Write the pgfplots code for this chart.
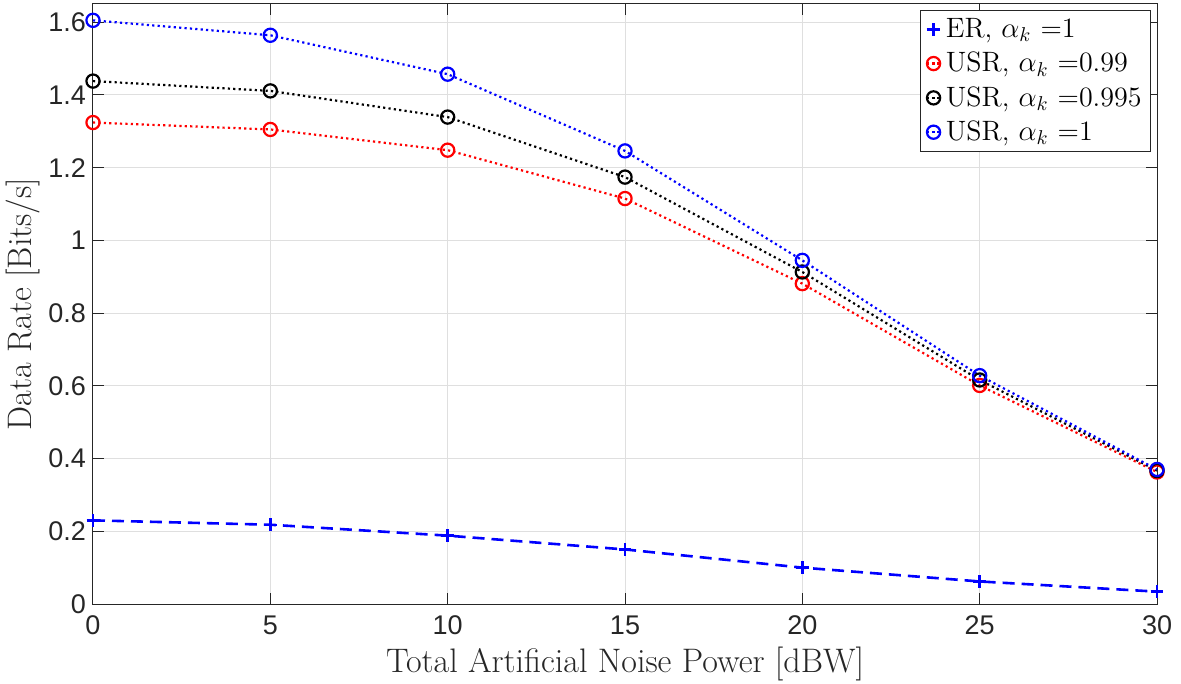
\documentclass[border=0pt]{standalone}
\usepackage{fontspec}
\usepackage{pgfplots}
\pgfplotsset{compat=1.18}
\newfontfamily\ticksf{Liberation Sans}
\definecolor{axgray}{RGB}{38,38,38}
\definecolor{gridgray}{RGB}{223,223,223}
\begin{document}
\begin{tikzpicture}
\begin{axis}[
  at={(0,0)}, anchor=south west,
  scale only axis, width=532pt, height=300pt,
  xmin=0, xmax=30, ymin=0, ymax=1.65,
  xtick={0,5,10,15,20,25,30},
  ytick={0,0.2,0.4,0.6,0.8,1,1.2,1.4,1.6},
  /pgf/number format/assume math mode=true,
  /pgf/number format/fixed,
  ticklabel style={font=\fontsize{13.5}{16}\selectfont\ticksf, text=axgray},
  xticklabel style={yshift=-2.5pt},
  axis line style={axgray, line width=0.5pt},
  tick style={axgray, line width=0.5pt},
  major tick length=5.5pt,
  tick align=inside,
  grid=major,
  major grid style={gridgray, line width=0.5pt},
  xlabel={Total Artificial Noise Power [dBW]},
  ylabel={Data Rate [Bits/s]},
  label style={font=\fontsize{17}{20}\selectfont, text=axgray},
  xlabel style={at={(axis description cs:0.5,0)}, anchor=base, yshift=-34.3pt},
  ylabel style={at={(axis description cs:0,0.5)}, anchor=base, yshift=30.5pt},
  legend style={at={(1,1)}, anchor=north east, xshift=-3pt, yshift=-3pt,
    font=\fontsize{14}{16}\selectfont, draw=axgray, line width=0.5pt,
    inner xsep=2.5pt, inner ysep=2pt, row sep=1.8pt, cells={anchor=west}},
  legend image code/.code={\draw[mark repeat=2,mark phase=2,#1] plot coordinates {(0pt,0pt) (3.5pt,0pt) (7pt,0pt)};},
]
\addplot[blue, line width=1.3pt, dash pattern=on 6pt off 3.5pt, mark=+, mark size=3.2pt, mark options={solid, line width=1.2pt}]
  coordinates {(0,0.230) (5,0.218) (10,0.188) (15,0.150) (20,0.100) (25,0.062) (30,0.034)};
\addlegendentry{ER, $\alpha_k$ =1}
\addplot[red, line width=1.1pt, dash pattern=on 1.1pt off 1.6pt, mark=o, mark size=3.3pt, mark options={solid, line width=1.1pt}]
  coordinates {(0,1.324) (5,1.305) (10,1.248) (15,1.115) (20,0.881) (25,0.601) (30,0.363)};
\addlegendentry{USR, $\alpha_k$ =0.99}
\addplot[black, line width=1.1pt, dash pattern=on 1.1pt off 1.6pt, mark=o, mark size=3.3pt, mark options={solid, line width=1.1pt}]
  coordinates {(0,1.438) (5,1.411) (10,1.339) (15,1.174) (20,0.913) (25,0.616) (30,0.367)};
\addlegendentry{USR, $\alpha_k$ =0.995}
\addplot[blue, line width=1.1pt, dash pattern=on 1.1pt off 1.6pt, mark=o, mark size=3.3pt, mark options={solid, line width=1.1pt}]
  coordinates {(0,1.605) (5,1.564) (10,1.457) (15,1.246) (20,0.945) (25,0.628) (30,0.370)};
\addlegendentry{USR, $\alpha_k$ =1}
\end{axis}
\pgfresetboundingbox
\path (-46.5pt,-40pt) rectangle (544pt,302pt);
\end{tikzpicture}
\end{document}
